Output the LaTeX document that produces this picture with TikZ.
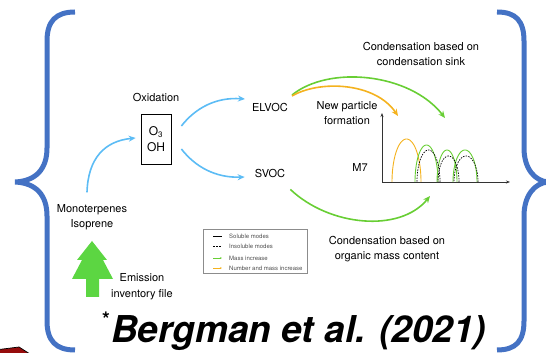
\documentclass[tikz,border=0pt]{standalone}
\usepackage{fontspec}
\setmainfont{TeX Gyre Heros}
\usetikzlibrary{arrows.meta}
\definecolor{cBrace}{RGB}{68,114,196}
\definecolor{cSky}{RGB}{92,188,245}
\definecolor{cGrn}{RGB}{104,206,52}
\definecolor{cTree}{RGB}{92,214,66}
\definecolor{cYel}{RGB}{244,178,30}
\definecolor{cRed}{RGB}{150,12,12}

\begin{document}
\begin{tikzpicture}[x=1pt, y=1pt,
  every node/.style={font=\fontsize{11}{14.5}\selectfont, align=center, inner sep=1pt},
  flow/.style={line width=1.6pt, -{Stealth[length=7pt,width=6pt]}},
  brace/.style={cBrace, line width=5pt},
  mode/.style={line width=0.9pt},
  key/.style={font=\fontsize{6}{7}\selectfont, text=black!70, anchor=west}]
  \useasboundingbox (0,0) rectangle (546,353);
  % curly braces
  \draw[brace] (75,341) .. controls (56,341) and (47,332) .. (47,312) -- (47,205)
    .. controls (47,184) and (36,172) .. (15,171) .. controls (36,170) and (47,158) .. (47,137)
    -- (47,32) .. controls (47,12) and (56,3) .. (75,3);
  \draw[brace] (497,341) .. controls (516,341) and (524,332) .. (524,312) -- (524,205)
    .. controls (524,184) and (535,172) .. (548,171) .. controls (535,170) and (524,158) .. (524,137)
    -- (524,32) .. controls (524,12) and (516,3) .. (497,3);
  % red corner
  \filldraw[fill=cRed, draw=black, line width=0.7pt] (-1,3.5) -- (19,6) -- (30,-1) -- (-1,-1);
  % oxidation
  \node (ox) at (156,256) {Oxidation};
  \node[draw, line width=0.8pt, minimum width=30pt, minimum height=50pt,
        font=\fontsize{12}{16}\selectfont] (box) at (156,214) {O\textsubscript{3}\\OH};
  \node (elvoc) at (270,246) {ELVOC};
  \node (svoc) at (270,180) {SVOC};
  % emissions
  \node (mono) at (92,136) {Monoterpenes\\Isoprene};
  \fill[cTree] (92,112) -- (107,93) -- (103,93) -- (113,74) -- (99,74) -- (99,56)
    -- (86,56) -- (86,74) -- (72,74) -- (82,93) -- (77,93) -- cycle;
  \node[font=\fontsize{11}{16}\selectfont] (emis) at (142,66) {Emission\\inventory file};
  % legend
  \node[draw=black!45, line width=0.6pt, minimum width=104pt, minimum height=44pt] (leg) at (255,102) {};
  \draw[line width=0.8pt] (213,117) -- (222,117);
  \node[key] (k1) at (228,117) {Soluble modes};
  \draw[line width=0.8pt, dash pattern=on 1.5pt off 1.5pt] (213,107) -- (222,107);
  \node[key] (k2) at (228,107) {Insoluble modes};
  \draw[cGrn, line width=0.6pt, -{Stealth[length=2pt]}] (213,95) -- (222,95);
  \node[key] (k3) at (228,95) {Mass increase};
  \draw[cYel, line width=0.6pt, -{Stealth[length=2pt]}] (213,85) -- (222,85);
  \node[key] (k4) at (228,85) {Number and mass increase};
  % M7 size distribution
  \coordinate (org) at (382,171);
  \draw[black!80, line width=0.8pt, -{Stealth[length=4pt,width=3pt]}] (org) -- ++(128,0);
  \draw[black!80, line width=0.8pt, -{Stealth[length=4pt,width=3pt]}] (org) -- ++(0,69);
  \node (m7) at (360,186) {M7};
  \draw[mode, cYel] plot[domain=0:180, samples=40] ({406.5+14.5*cos(\x)}, {171+43*sin(\x)});
  \foreach \c/\w/\h in {426.5/11.5/37, 447/10/32, 465/12/32}{%
    \draw[mode, cGrn] plot[domain=0:180, samples=40] ({\c+\w*cos(\x)}, {171+\h*sin(\x)});
  }
  \foreach \c/\w/\h in {428.5/11.5/32, 448.5/10.5/26, 466/12/26}{%
    \draw[line width=0.7pt, black, dash pattern=on 1.5pt off 1.2pt] plot[domain=0:180, samples=40] ({\c+\w*cos(\x)}, {171+\h*sin(\x)});
  }
  \node (sink) at (421,299) {Condensation based on\\condensation sink};
  \node (npf) at (347,240) {New particle\\formation};
  \node (orgc) at (387,104) {Condensation based on\\organic mass content};
  \coordinate (sinkend) at (445,235);
  \coordinate (npfend) at (398,237);
  \coordinate (orgend) at (430,157);
  % blue arrows
  \draw[flow, cSky] ([shift={(-5,11)}]mono.north) .. controls +(1,34) and +(-31,-3) .. ([shift={(-5,1)}]box.west);
  \draw[flow, cSky] ([shift={(10,13)}]box.east) .. controls +(14,18) and +(-29,2) .. ([shift={(-6,8)}]elvoc.west);
  \draw[flow, cSky] ([shift={(10,-10)}]box.east) .. controls +(14,-18) and +(-29,-1) .. ([shift={(-9,-4)}]svoc.west);
  % green and yellow arrows
  \draw[flow, cGrn] ([shift={(3,12)}]elvoc.east) .. controls +(37,30) and +(-35,45) .. (sinkend);
  \draw[flow, cYel] ([shift={(3,11)}]elvoc.east) .. controls +(27,16) and +(-23,34) .. (npfend);
  \draw[flow, cGrn] ([shift={(4,-11)}]svoc.south east) .. controls +(39,-37) and +(-30,-37) .. (orgend);
  % reference
  \node[anchor=base west, font=\fontsize{37}{37}\selectfont\bfseries\itshape] (ref) at (110,10) {Bergman et al. (2021)};
  \node[font=\fontsize{20}{20}\selectfont\bfseries] (star) at (106,34) {*};
\end{tikzpicture}
\end{document}
